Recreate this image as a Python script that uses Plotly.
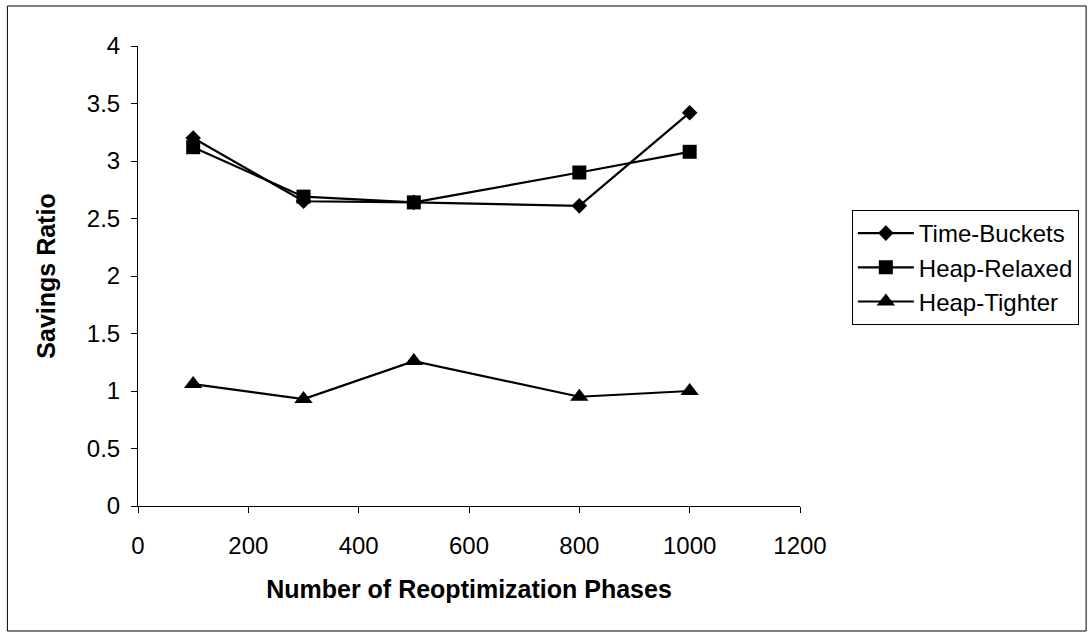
import plotly.graph_objects as go

phases = [100, 300, 500, 800, 1000]
time_buckets = [3.2, 2.65, 2.64, 2.61, 3.42]
heap_relaxed = [3.12, 2.69, 2.64, 2.9, 3.08]
heap_tighter = [1.06, 0.93, 1.26, 0.95, 1.0]

x_ticks = [0, 200, 400, 600, 800, 1000, 1200]
y_ticks = [0, 0.5, 1, 1.5, 2, 2.5, 3, 3.5, 4]
y_tick_text = ["0", "0.5", "1", "1.5", "2", "2.5", "3", "3.5", "4"]

FONT = "Arial, Liberation Sans, Helvetica, sans-serif"

fig = go.Figure()
fig.add_trace(go.Scatter(x=phases, y=time_buckets, name="Time-Buckets", mode="lines+markers",
                         line=dict(color="black", width=2.2),
                         marker=dict(symbol="diamond", size=12, color="black")))
fig.add_trace(go.Scatter(x=phases, y=heap_relaxed, name="Heap-Relaxed", mode="lines+markers",
                         line=dict(color="black", width=2.2),
                         marker=dict(symbol="square", size=14, color="black")))
fig.add_trace(go.Scatter(x=phases, y=heap_tighter, name="Heap-Tighter", mode="lines+markers",
                         line=dict(color="black", width=2.2),
                         marker=dict(symbol="triangle-up", size=16, color="black")))

W, H = 1091, 633
L, R, T, B = 138, 802, 46, 506

fig.update_layout(
    width=W, height=H,
    margin=dict(l=L, r=W - R, t=T, b=H - B, pad=0),
    paper_bgcolor="white", plot_bgcolor="white",
    font=dict(family=FONT, color="black", size=24),
    showlegend=True,
    legend=dict(
        x=(854 - L) / (R - L), y=(B - 210) / (B - T),
        xanchor="left", yanchor="top",
        bordercolor="black", borderwidth=1, bgcolor="white",
        font=dict(family=FONT, size=24, color="black"),
        itemwidth=56, tracegroupgap=0,
    ),
    xaxis=dict(
        range=[0, 1200], tickvals=x_ticks, ticktext=[str(v) for v in x_ticks],
        showgrid=False, zeroline=False, showline=True, linecolor="black", linewidth=1,
        ticks="outside", ticklen=6, tickcolor="black", tickwidth=1,
        ticklabelstandoff=12,
        tickfont=dict(family=FONT, size=24),
        title=dict(text="<b>Number of Reoptimization Phases</b>",
                   font=dict(family=FONT, size=25), standoff=22),
    ),
    yaxis=dict(
        range=[0, 4], tickvals=y_ticks, ticktext=y_tick_text,
        showgrid=False, zeroline=False, showline=True, linecolor="black", linewidth=1,
        ticks="outside", ticklen=6, tickcolor="black", tickwidth=1,
        ticklabelstandoff=6,
        tickfont=dict(family=FONT, size=24),
        title=dict(text="<b>Savings Ratio</b>",
                   font=dict(family=FONT, size=25), standoff=24),
    ),
)

# outer chart border
fig.add_shape(type="rect", xref="paper", yref="paper",
              x0=(7 - L) / (R - L), x1=(1089 - L) / (R - L),
              y0=(B - 631) / (B - T), y1=(B - 6) / (B - T),
              line=dict(color="black", width=1), fillcolor="rgba(0,0,0,0)", layer="below")

fig.write_html("out.html")
